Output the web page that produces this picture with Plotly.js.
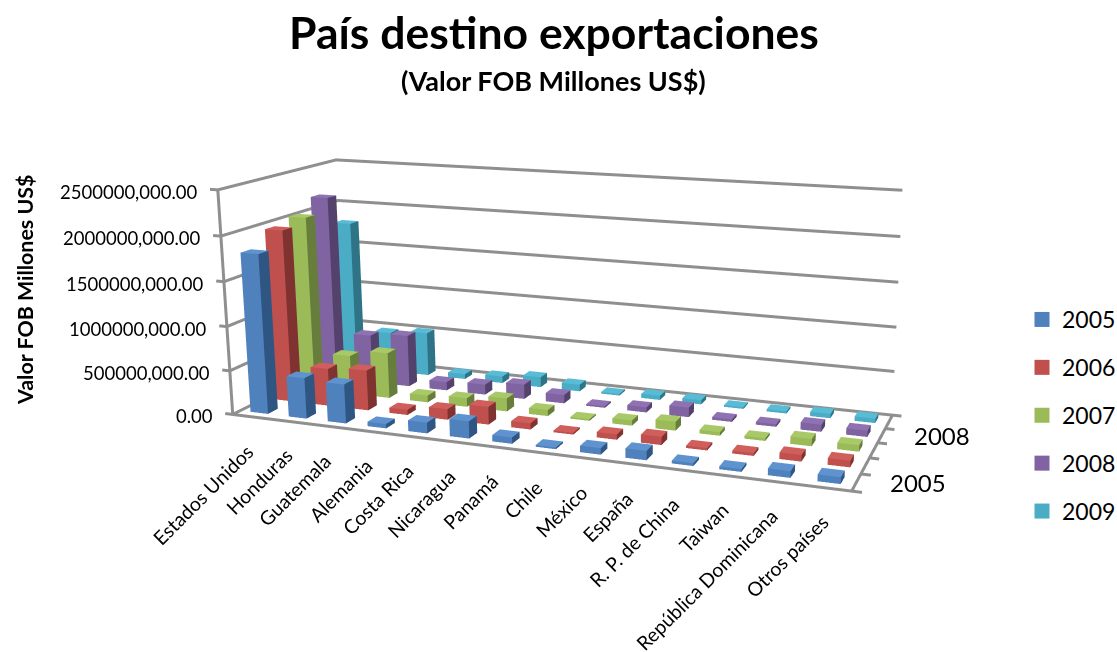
<!DOCTYPE html>
<html lang="es">
<head>
<meta charset="utf-8">
<title>País destino exportaciones</title>
<script src="https://cdn.plot.ly/plotly-3.0.1.min.js"></script>
<style>
  html, body { margin: 0; padding: 0; width: 100%; height: 100%; overflow: hidden; background: #fff; }
  #chart { position: absolute; left: 0; top: -303px; width: 1260px; height: 1166px; }
</style>
</head>
<body>
<div id="chart"></div>
<script>
const categories = ["Estados Unidos", "Honduras", "Guatemala", "Alemania", "Costa Rica", "Nicaragua", "Panamá",
  "Chile", "México", "España", "R. P. de China", "Taiwan", "República Dominicana", "Otros países"];
const years = ["2005", "2006", "2007", "2008", "2009"];

const v2005 = [1800000, 460000, 440000, 50000, 120000, 190000, 70000, 20000, 70000, 100000, 30000, 30000, 70000, 70000];
const v2006 = [1970000, 430000, 460000, 60000, 120000, 200000, 70000, 20000, 60000, 90000, 25000, 30000, 70000, 70000];
const v2007 = [2030000, 450000, 530000, 80000, 100000, 150000, 70000, 20000, 60000, 100000, 40000, 30000, 80000, 70000];
const v2008 = [2180000, 570000, 610000, 100000, 120000, 170000, 100000, 20000, 60000, 110000, 30000, 30000, 80000, 70000];
const v2009 = [1790000, 480000, 520000, 60000, 80000, 120000, 80000, 20000, 50000, 50000, 20000, 25000, 50000, 50000];
const seriesValues = [v2005, v2006, v2007, v2008, v2009];

const frontColors = ["#4f81bd", "#c0504d", "#9bbb59", "#8064a2", "#4bacc6"];
const sideColors = ["#2f5682", "#7f3230", "#677d3b", "#55426c", "#2f7386"];
const topColors = ["#5f93d0", "#d05f5c", "#a9c968", "#8f72b2", "#58bcd6"];

const valueTicks = [0, 500000, 1000000, 1500000, 2000000, 2500000];
const valueTickText = ["0.00", "500000,000.00", "1000000,000.00", "1500000,000.00", "2000000,000.00", "2500000,000.00"];

const PLOT_W = 1260, PLOT_H = 1166, PLOT_TOP = -303;
const px = x => x / PLOT_W;
const py = y => 1 - (y - PLOT_TOP) / PLOT_H;
const FONT = "Lato, Carlito, sans-serif";
const INSET_X = 0.27, INSET_Y = 0.3;
const TICK_STUB = 0.2;

// One mesh per year: each column contributes its front, side and top faces.
function columnMesh(values, seriesIndex) {
  const m = { x: [], y: [], z: [], i: [], j: [], k: [], facecolor: [] };
  const quad = (a, b, c, d, color) => {
    m.i.push(a, a); m.j.push(b, c); m.k.push(c, d); m.facecolor.push(color, color);
  };
  values.forEach((v, c) => {
    const n = m.x.length;
    const x0 = c + INSET_X, x1 = c + 1 - INSET_X;
    const y0 = seriesIndex + INSET_Y, y1 = seriesIndex + 1 - INSET_Y;
    [[x0, y0, 0], [x1, y0, 0], [x1, y1, 0], [x0, y1, 0], [x0, y0, v], [x1, y0, v], [x1, y1, v], [x0, y1, v]]
      .forEach(p => { m.x.push(p[0]); m.y.push(p[1]); m.z.push(p[2]); });
    quad(n, n + 1, n + 5, n + 4, frontColors[seriesIndex]);
    quad(n + 1, n + 2, n + 6, n + 5, sideColors[seriesIndex]);
    quad(n + 4, n + 5, n + 6, n + 7, topColors[seriesIndex]);
  });
  return m;
}

const columnTraces = seriesValues.map((values, s) => Object.assign(columnMesh(values, s), {
  type: "mesh3d",
  name: years[s],
  flatshading: true,
  showlegend: false,
  showscale: false,
  hoverinfo: "skip",
  lighting: { ambient: 1, diffuse: 0, specular: 0, roughness: 1, fresnel: 0 }
}));

// Walls and floor edges: gridlines run along the left and back walls.
const nCat = categories.length, nSer = years.length;
const frame = { x: [], y: [], z: [] };
const segment = pts => {
  pts.forEach(p => { frame.x.push(p[0]); frame.y.push(p[1]); frame.z.push(p[2]); });
  frame.x.push(null); frame.y.push(null); frame.z.push(null);
};
valueTicks.forEach(v => segment([[-TICK_STUB, 0, v], [0, 0, v], [0, nSer, v], [nCat, nSer, v]]));
segment([[0, 0, 0], [0, 0, valueTicks[valueTicks.length - 1]]]);
segment([[0, 0, 0], [nCat, 0, 0], [nCat, nSer, 0]]);
years.forEach((_, s) => segment([[nCat, s, 0], [nCat + TICK_STUB, s, 0]]));
segment([[nCat, nSer, 0], [nCat + TICK_STUB, nSer, 0]]);
const frameTrace = Object.assign(frame, {
  type: "scatter3d", mode: "lines", showlegend: false, hoverinfo: "skip",
  line: { color: "#8f8f8f", width: 6 }
});

// Legend entries carry the square swatches for each year.
const legendTraces = years.map((year, s) => ({
  type: "scatter3d", mode: "markers", name: year, legendgroup: year, showlegend: true,
  x: [null], y: [null], z: [null], hoverinfo: "skip",
  marker: { symbol: "square", size: 15, color: frontColors[s], line: { width: 0 } }
}));

const sceneText = [];
categories.forEach((name, c) => sceneText.push({
  x: c + 0.5, y: 0, z: 0, text: name, showarrow: false, textangle: -45,
  xanchor: "right", yanchor: "top", xshift: 9, yshift: -20,
  font: { family: FONT, size: 19.5, color: "#000" }
}));
valueTicks.forEach((v, t) => sceneText.push({
  x: 0, y: 0, z: v, text: valueTickText[t], showarrow: false,
  xanchor: "right", yanchor: "middle", xshift: -18, yshift: -2,
  font: { family: FONT, size: 18.5, color: "#000" }
}));
[["2005", 0.5, 32], ["2008", 3.5, 30]].forEach(([label, y, shift]) => sceneText.push({
  x: nCat, y: y, z: 0, text: label, showarrow: false,
  xanchor: "left", yanchor: "middle", xshift: shift,
  font: { family: FONT, size: 24, color: "#000" }
}));

const hiddenAxis = range => ({ visible: false, range: range });
const layout = {
  width: PLOT_W, height: PLOT_H, autosize: false,
  margin: { l: 0, r: 0, t: 0, b: 0 },
  paper_bgcolor: "#fff",
  title: { text: "<b>País destino exportaciones</b>", x: px(554), y: py(33), xanchor: "center", yanchor: "middle",
    font: { family: FONT, size: 44.5, color: "#000" } },
  legend: { x: px(1022), y: py(298), xanchor: "left", yanchor: "top", tracegroupgap: 15,
    font: { family: FONT, size: 23, color: "#000" } },
  annotations: [
    { xref: "paper", yref: "paper", x: px(553), y: py(81), yanchor: "middle", xanchor: "center",
      text: "<b>(Valor FOB Millones US$)</b>", showarrow: false,
      font: { family: FONT, size: 27, color: "#000" } },
    { xref: "paper", yref: "paper", x: px(25), y: py(290), yanchor: "middle", xanchor: "center",
      text: "<b>Valor FOB Millones US$</b>", showarrow: false, textangle: -90,
      font: { family: FONT, size: 21.4, color: "#000" } }
  ],
  scene: {
    domain: { x: [0, 1], y: [0, 1] },
    aspectmode: "manual",
    aspectratio: { x: 2 * (nCat + 2 * TICK_STUB) / nCat, y: 0.698, z: 0.7296 },
    camera: { eye: { x: 1.637, y: -3.989, z: 1.069 }, center: { x: 0.232, y: -0.005, z: 0.098 }, up: { x: 0, y: 0, z: 1 } },
    annotations: sceneText,
    xaxis: hiddenAxis([-TICK_STUB, nCat + TICK_STUB]),
    yaxis: hiddenAxis([0, nSer]),
    zaxis: hiddenAxis([0, valueTicks[valueTicks.length - 1]])
  }
};

Plotly.newPlot("chart", [frameTrace, ...columnTraces, ...legendTraces], layout, { displayModeBar: false, responsive: false });
</script>
</body>
</html>
